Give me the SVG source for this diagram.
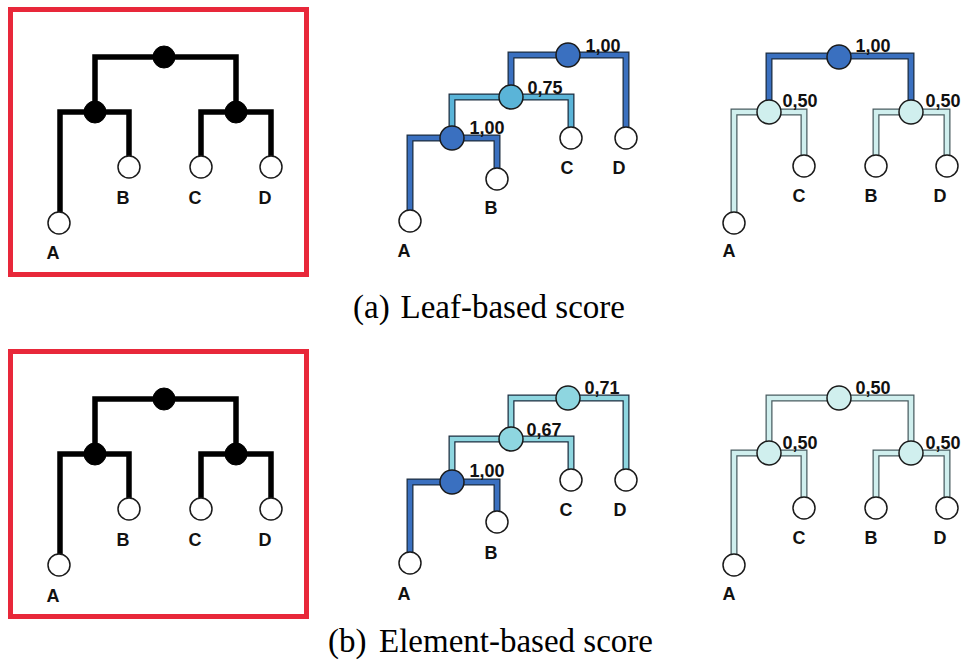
<svg xmlns="http://www.w3.org/2000/svg" xmlns:xlink="http://www.w3.org/1999/xlink" width="972" height="672" viewBox="0 0 972 672">
<style>
.frame{fill:none;stroke:#e8283a;stroke-width:5}
.blk{fill:none;stroke:#000;stroke-width:5.5;stroke-linejoin:miter}
.o{fill:none;stroke:#1e2e40;stroke-width:7;stroke-linejoin:miter}
.op{fill:none;stroke:#4a5c60;stroke-width:7;stroke-linejoin:miter}
.cb{fill:none;stroke:#3a70c0;stroke-width:4.5}
.cc{fill:none;stroke:#5ab4d8;stroke-width:4.5}
.cm{fill:none;stroke:#8ed6e0;stroke-width:4.5}
.cp{fill:none;stroke:#d0efee;stroke-width:4.5}
.leaf{fill:#fff;stroke:#1a1a1a;stroke-width:1.5}
.nk{fill:#000;stroke:#000;stroke-width:1}
.nb{fill:#3a70c0;stroke:#1a1a1a;stroke-width:1.5}
.nc{fill:#5ab4d8;stroke:#1a1a1a;stroke-width:1.5}
.nm{fill:#8ed6e0;stroke:#1a1a1a;stroke-width:1.5}
.np{fill:#d0efee;stroke:#1a1a1a;stroke-width:1.5}
.lbl{font-family:"Liberation Sans",Arial,sans-serif;font-weight:bold;font-size:18px;fill:#111;text-anchor:middle}
.cap{font-family:"Liberation Serif","Times New Roman",serif;font-size:33px;fill:#000}
</style>
<defs>
<path id="am1" d="M511,97 V55 H626 V127"/>
<path id="am2" d="M452,138 V97 H571 V127"/>
<path id="am3" d="M410,210 V138 H497 V168"/>
<path id="bm1" d="M511,439 V398 H626 V469"/>
<path id="bm2" d="M452,482 V439 H571 V469"/>
<path id="bm3" d="M410,552 V482 H497 V511"/>
<path id="ar1" d="M769,112 V56 H911 V112"/>
<path id="ar2" d="M734,212 V112 H804 V155"/>
<path id="ar3" d="M876,155 V112 H947 V155"/>
<path id="br1" d="M769,453 V398 H911 V453"/>
<path id="br2" d="M734,554 V453 H804 V497"/>
<path id="br3" d="M876,497 V453 H947 V497"/>
</defs>

<rect class="frame" x="10.5" y="9.5" width="296" height="265"/>
<rect class="frame" x="10.5" y="351.5" width="296" height="265"/>

<g id="connectors">
  <path class="blk" d="M95,112 V57 H236 V112"/>
  <path class="blk" d="M60,212 V112 H129 V156"/>
  <path class="blk" d="M201,156 V112 H271 V156"/>
  <path class="blk" d="M95,454 V399 H236 V454"/>
  <path class="blk" d="M60,554 V454 H129 V498"/>
  <path class="blk" d="M201,498 V454 H271 V498"/>

  <use xlink:href="#am1" class="o"/><use xlink:href="#am1" class="cb"/>
  <use xlink:href="#am2" class="o"/><use xlink:href="#am2" class="cc"/>
  <use xlink:href="#am3" class="o"/><use xlink:href="#am3" class="cb"/>

  <use xlink:href="#bm1" class="o"/><use xlink:href="#bm1" class="cm"/>
  <use xlink:href="#bm2" class="o"/><use xlink:href="#bm2" class="cm"/>
  <use xlink:href="#bm3" class="o"/><use xlink:href="#bm3" class="cb"/>

  <use xlink:href="#ar1" class="o"/><use xlink:href="#ar1" class="cb"/>
  <use xlink:href="#ar2" class="op"/><use xlink:href="#ar2" class="cp"/>
  <use xlink:href="#ar3" class="op"/><use xlink:href="#ar3" class="cp"/>

  <use xlink:href="#br1" class="op"/><use xlink:href="#br1" class="cp"/>
  <use xlink:href="#br2" class="op"/><use xlink:href="#br2" class="cp"/>
  <use xlink:href="#br3" class="op"/><use xlink:href="#br3" class="cp"/>
</g>

<!-- Panel a, left -->
<g id="a1-root"><circle class="nk" cx="164" cy="57" r="11"/></g>
<g id="a1-left"><circle class="nk" cx="95" cy="112" r="11"/></g>
<g id="a1-right"><circle class="nk" cx="236" cy="112" r="11"/></g>
<g id="a1-A"><circle class="leaf" cx="59" cy="223" r="11"/><text class="lbl" x="53" y="259">A</text></g>
<g id="a1-B"><circle class="leaf" cx="129" cy="167" r="11"/><text class="lbl" x="123" y="204">B</text></g>
<g id="a1-C"><circle class="leaf" cx="201" cy="167" r="11"/><text class="lbl" x="195" y="204">C</text></g>
<g id="a1-D"><circle class="leaf" cx="271" cy="167" r="11"/><text class="lbl" x="265" y="204">D</text></g>

<!-- Panel b, left -->
<g id="b1-root"><circle class="nk" cx="164" cy="399" r="11"/></g>
<g id="b1-left"><circle class="nk" cx="95" cy="454" r="11"/></g>
<g id="b1-right"><circle class="nk" cx="236" cy="454" r="11"/></g>
<g id="b1-A"><circle class="leaf" cx="59" cy="565" r="11"/><text class="lbl" x="53" y="602">A</text></g>
<g id="b1-B"><circle class="leaf" cx="129" cy="509" r="11"/><text class="lbl" x="123" y="546">B</text></g>
<g id="b1-C"><circle class="leaf" cx="201" cy="509" r="11"/><text class="lbl" x="195" y="546">C</text></g>
<g id="b1-D"><circle class="leaf" cx="271" cy="509" r="11"/><text class="lbl" x="265" y="546">D</text></g>

<!-- Panel a, middle -->
<g id="a2-root"><circle class="nb" cx="568" cy="55" r="12"/><text class="lbl" x="603" y="52">1,00</text></g>
<g id="a2-mid"><circle class="nc" cx="511" cy="97" r="12"/><text class="lbl" x="545" y="94">0,75</text></g>
<g id="a2-low"><circle class="nb" cx="452" cy="138" r="12"/><text class="lbl" x="487" y="134">1,00</text></g>
<g id="a2-A"><circle class="leaf" cx="410" cy="221" r="11"/><text class="lbl" x="404" y="257">A</text></g>
<g id="a2-B"><circle class="leaf" cx="497" cy="179" r="11"/><text class="lbl" x="491" y="214">B</text></g>
<g id="a2-C"><circle class="leaf" cx="571" cy="138" r="11"/><text class="lbl" x="567" y="174">C</text></g>
<g id="a2-D"><circle class="leaf" cx="626" cy="138" r="11"/><text class="lbl" x="619" y="174">D</text></g>

<!-- Panel b, middle -->
<g id="b2-root"><circle class="nm" cx="568" cy="398" r="12"/><text class="lbl" x="602" y="394">0,71</text></g>
<g id="b2-mid"><circle class="nm" cx="511" cy="439" r="12"/><text class="lbl" x="544" y="436">0,67</text></g>
<g id="b2-low"><circle class="nb" cx="452" cy="482" r="12"/><text class="lbl" x="487" y="477">1,00</text></g>
<g id="b2-A"><circle class="leaf" cx="410" cy="563" r="11"/><text class="lbl" x="404" y="600">A</text></g>
<g id="b2-B"><circle class="leaf" cx="497" cy="522" r="11"/><text class="lbl" x="491" y="559">B</text></g>
<g id="b2-C"><circle class="leaf" cx="571" cy="480" r="11"/><text class="lbl" x="566" y="516">C</text></g>
<g id="b2-D"><circle class="leaf" cx="626" cy="480" r="11"/><text class="lbl" x="620" y="516">D</text></g>

<!-- Panel a, right -->
<g id="a3-root"><circle class="nb" cx="839" cy="57" r="12"/><text class="lbl" x="873" y="52">1,00</text></g>
<g id="a3-left"><circle class="np" cx="769" cy="112" r="12"/><text class="lbl" x="800" y="107">0,50</text></g>
<g id="a3-right"><circle class="np" cx="911" cy="112" r="12"/><text class="lbl" x="943" y="107">0,50</text></g>
<g id="a3-A"><circle class="leaf" cx="734" cy="223" r="11"/><text class="lbl" x="729" y="257">A</text></g>
<g id="a3-C"><circle class="leaf" cx="804" cy="166" r="11"/><text class="lbl" x="799" y="202">C</text></g>
<g id="a3-B"><circle class="leaf" cx="876" cy="166" r="11"/><text class="lbl" x="871" y="202">B</text></g>
<g id="a3-D"><circle class="leaf" cx="947" cy="166" r="11"/><text class="lbl" x="940" y="202">D</text></g>

<!-- Panel b, right -->
<g id="b3-root"><circle class="np" cx="839" cy="398" r="12"/><text class="lbl" x="873" y="394">0,50</text></g>
<g id="b3-left"><circle class="np" cx="769" cy="453" r="12"/><text class="lbl" x="800" y="449">0,50</text></g>
<g id="b3-right"><circle class="np" cx="911" cy="453" r="12"/><text class="lbl" x="943" y="449">0,50</text></g>
<g id="b3-A"><circle class="leaf" cx="734" cy="565" r="11"/><text class="lbl" x="729" y="600">A</text></g>
<g id="b3-C"><circle class="leaf" cx="804" cy="508" r="11"/><text class="lbl" x="799" y="544">C</text></g>
<g id="b3-B"><circle class="leaf" cx="876" cy="508" r="11"/><text class="lbl" x="871" y="544">B</text></g>
<g id="b3-D"><circle class="leaf" cx="947" cy="508" r="11"/><text class="lbl" x="940" y="544">D</text></g>

<text class="cap" x="353" y="318">(a)</text>
<text class="cap" x="625" y="318" text-anchor="end">Leaf-based score</text>
<text class="cap" x="328" y="652">(b)</text>
<text class="cap" x="653" y="652" text-anchor="end">Element-based score</text>
</svg>
